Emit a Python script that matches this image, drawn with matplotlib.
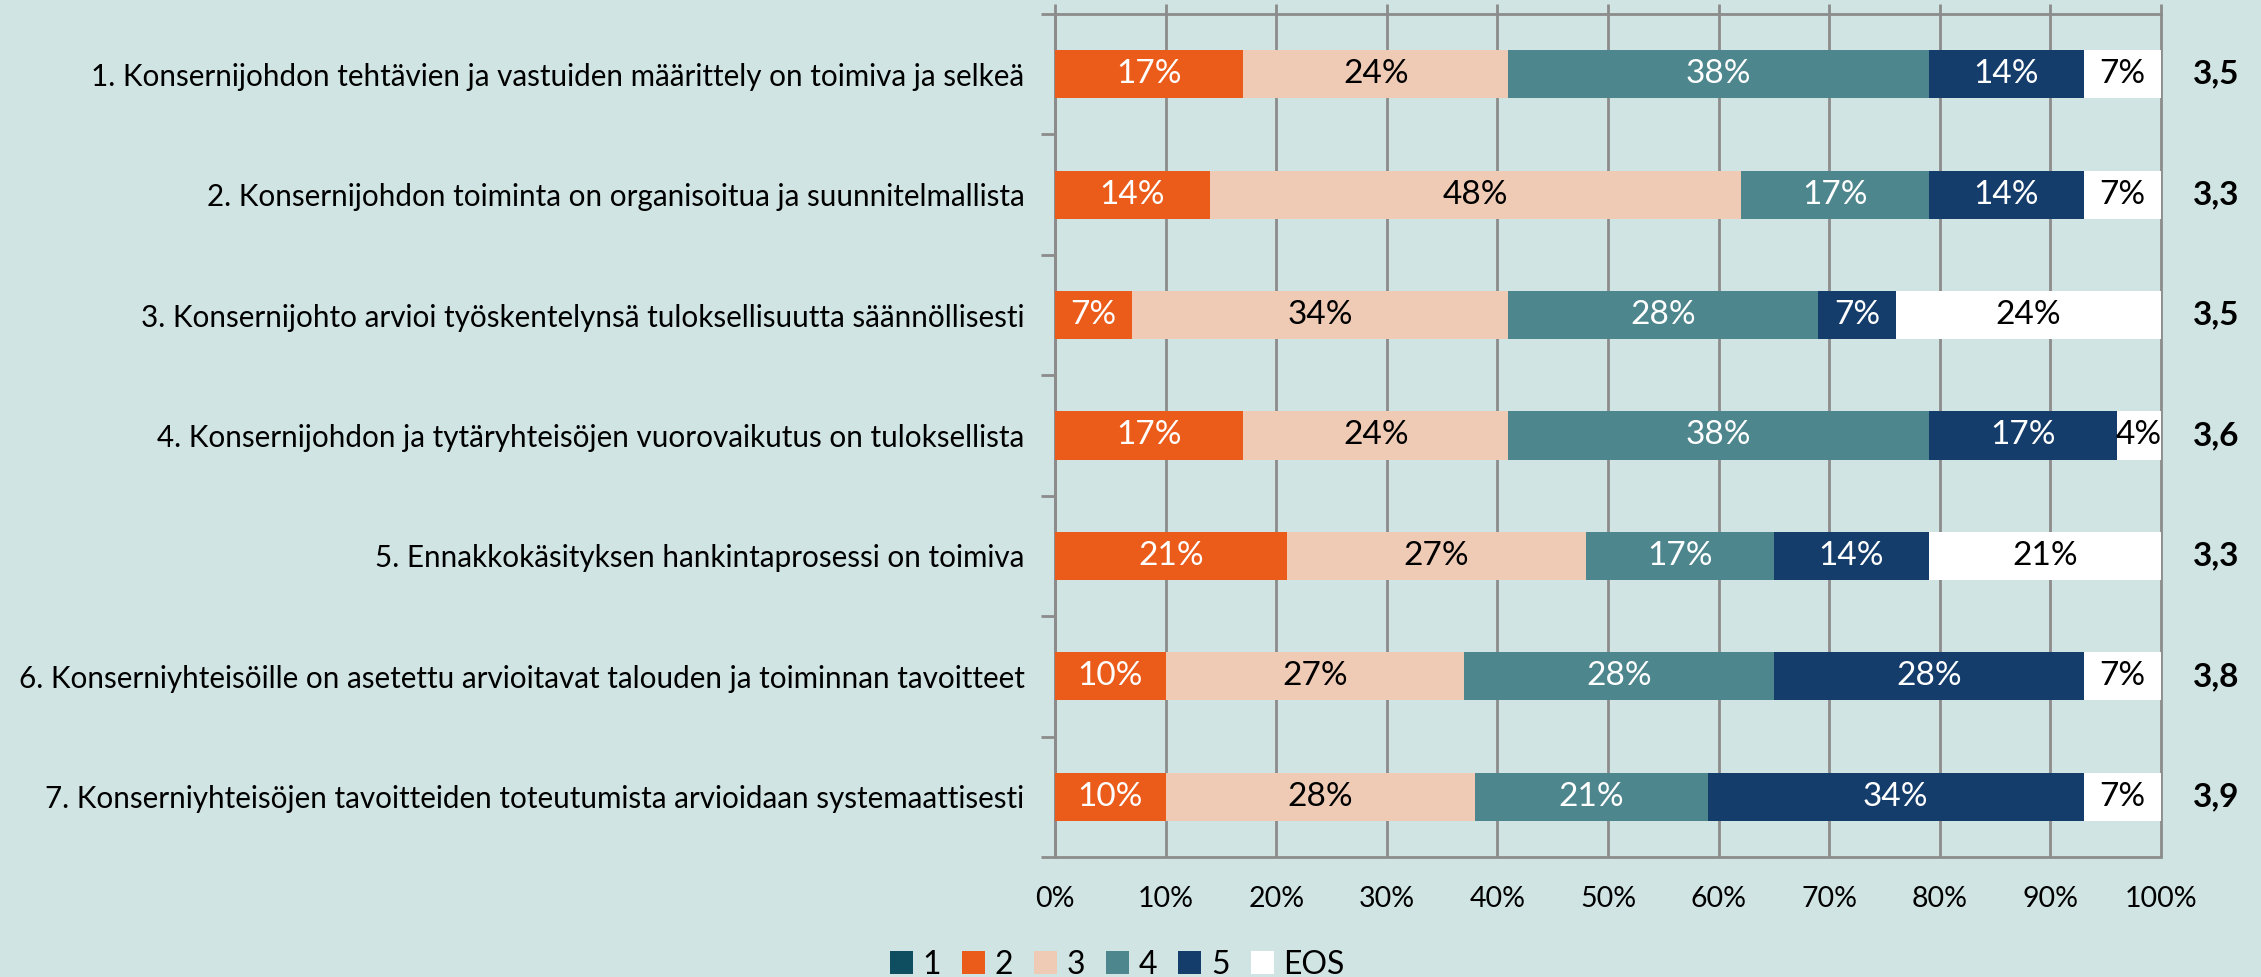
import matplotlib
matplotlib.use("Agg")
import matplotlib.pyplot as plt
import numpy as np
from matplotlib.patches import Patch

plt.rcParams['font.family'] = ['Lato', 'DejaVu Sans']

categories = [
    "1. Konsernijohdon tehtävien ja vastuiden määrittely on toimiva ja selkeä",
    "2. Konsernijohdon toiminta on organisoitua ja suunnitelmallista",
    "3. Konsernijohto arvioi työskentelynsä tuloksellisuutta säännöllisesti",
    "4. Konsernijohdon ja tytäryhteisöjen vuorovaikutus on tuloksellista",
    "5. Ennakkokäsityksen hankintaprosessi on toimiva",
    "6. Konserniyhteisöille on asetettu arvioitavat talouden ja toiminnan tavoitteet",
    "7. Konserniyhteisöjen tavoitteiden toteutumista arvioidaan systemaattisesti",
]
series_names = ["1", "2", "3", "4", "5", "EOS"]
s1 = [0, 0, 0, 0, 0, 0, 0]
s2 = [17, 14, 7, 17, 21, 10, 10]
s3 = [24, 48, 34, 24, 27, 27, 28]
s4 = [38, 17, 28, 38, 17, 28, 21]
s5 = [14, 14, 7, 17, 14, 28, 34]
s_eos = [7, 7, 24, 4, 21, 7, 7]
averages = ["3,5", "3,3", "3,5", "3,6", "3,3", "3,8", "3,9"]
xtick_labels = ["0%", "10%", "20%", "30%", "40%", "50%", "60%", "70%", "80%", "90%", "100%"]

colors = ["#0F4E61", "#EB5B1A", "#EFCBB6", "#4E868E", "#143D6B", "#FFFFFF"]
text_colors = ["white", "white", "black", "white", "white", "black"]
bg = "#D0E4E3"
grid_c = "#8C8C8C"

W, H = 2261, 977
fig = plt.figure(figsize=(W / 100, H / 100), dpi=100, facecolor=bg)
ax = fig.add_axes([1055 / W, (H - 857) / H, (2161 - 1055) / W, (857 - 14) / H])
ax.set_facecolor(bg)

data = [s1, s2, s3, s4, s5, s_eos]
y = np.arange(len(categories))
left = np.zeros(len(categories))
for vals, name, col, tc in zip(data, series_names, colors, text_colors):
    vals = np.array(vals, dtype=float)
    bars = ax.barh(y, vals, left=left, height=0.4, color=col, label=name, zorder=3)
    for b, v in zip(bars, vals):
        if v > 0:
            ax.text(b.get_x() + b.get_width() / 2, b.get_y() + b.get_height() / 2,
                    f"{int(v)}%", ha="center", va="center", color=tc, fontsize=24, zorder=4)
    left += vals

ax.set_xlim(0, 100)
ax.set_ylim(len(categories) - 0.5, -0.5)
ax.set_xticks(np.arange(0, 101, 10))
ax.set_xticklabels(xtick_labels, fontsize=20.5)
ax.tick_params(axis="x", length=0, pad=21)
ax.set_yticks(y)
ax.set_yticklabels(categories, fontsize=21.3)
ax.tick_params(axis="y", which="major", length=0, pad=22)
ax.set_yticks(np.arange(-0.5, len(categories), 1), minor=True)
ax.tick_params(axis="y", which="minor", length=10, width=2, color=grid_c)

# vertical gridlines slightly extended above the top
ax.vlines(np.arange(0, 101, 10), 0, 1.012, transform=ax.get_xaxis_transform(),
          colors=grid_c, linewidth=2, zorder=1, clip_on=False)
for side in ["left", "bottom", "top"]:
    ax.spines[side].set_color(grid_c)
    ax.spines[side].set_linewidth(2)
ax.spines["right"].set_visible(False)
ax.spines["bottom"].set_zorder(5)

for yi, a in zip(y, averages):
    ax.text(1.05, yi, a, transform=ax.get_yaxis_transform(), ha="center", va="center",
            fontsize=24, fontweight="bold", color="black")

handles = [Patch(facecolor=c, edgecolor="none") for c in colors]
fig.legend(handles, series_names, loc="center", bbox_to_anchor=(1117 / W, 12 / H),
           ncol=6, frameon=False, fontsize=23, handlelength=0.72, handleheight=0.72,
           handletextpad=0.3, columnspacing=0.66, borderpad=0, borderaxespad=0)

fig.savefig("out.png", dpi=100, facecolor=bg)
